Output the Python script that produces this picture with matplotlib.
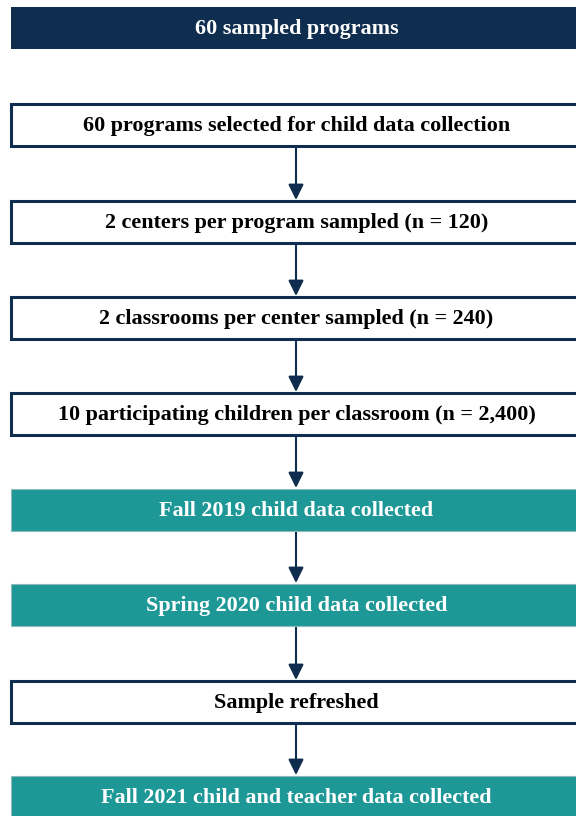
import matplotlib
matplotlib.use("Agg")
import matplotlib.pyplot as plt
from matplotlib.patches import Rectangle, FancyArrowPatch

labels = [
    "60 sampled programs",
    "60 programs selected for child data collection",
    "2 centers per program sampled (n = 120)",
    "2 classrooms per center sampled (n = 240)",
    "10 participating children per classroom (n = 2,400)",
    "Fall 2019 child data collected",
    "Spring 2020 child data collected",
    "Sample refreshed",
    "Fall 2021 child and teacher data collected",
]
kinds = ["header", "step", "step", "step", "step", "collect", "collect", "step", "collect"]
arrow_from = [1, 2, 3, 4, 5, 6, 7]  # arrow from box i to box i+1

NAVY = "#0E2D4F"
TEAL = "#1E9896"

W, H = 576, 816
fig = plt.figure(figsize=(W / 100, H / 100), dpi=100)
ax = fig.add_axes([0, 0, 1, 1])
ax.set_xlim(0, W)
ax.set_ylim(H, 0)
ax.axis("off")

tops = [7, 104, 201, 297, 393, 489, 584, 681, 776]
bh = 42
x0, x1 = 11, 582
cx = (x0 + x1) / 2

for lab, kind, t in zip(labels, kinds, tops):
    if kind == "header":
        fc, ec, tc, lw = NAVY, NAVY, "white", 0
    elif kind == "collect":
        fc, ec, tc, lw = TEAL, "#8FB8B8", "white", 0.8
    else:
        fc, ec, tc, lw = "white", NAVY, "black", 2.2
    ax.add_patch(Rectangle((x0, t), x1 - x0, bh, facecolor=fc, edgecolor=ec,
                           linewidth=lw, zorder=2))
    ax.text(cx, t + bh / 2 + 1, lab, ha="center", va="center", color=tc,
            fontsize=15.9, fontweight="bold", family="Liberation Serif", zorder=3)

for i in arrow_from:
    y_start = tops[i] + bh + 1
    y_end = tops[i + 1] - 1
    ax.add_patch(FancyArrowPatch((296, y_start), (296, y_end),
                                 arrowstyle="-|>,head_length=0.67,head_width=0.33",
                                 mutation_scale=14, color=NAVY, linewidth=1.5,
                                 shrinkA=0, shrinkB=0, zorder=1))

fig.savefig("out.png", dpi=100)
